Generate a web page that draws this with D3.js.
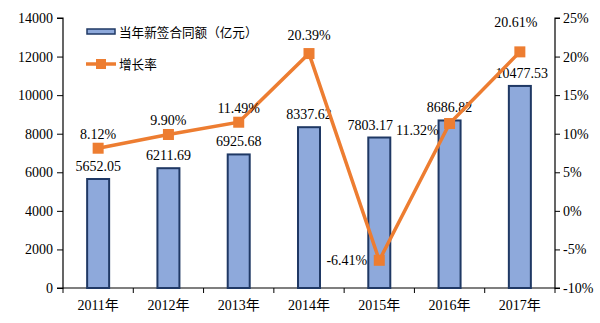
<!DOCTYPE html>
<html>
<head>
<meta charset="utf-8">
<script src="https://cdn.jsdelivr.net/npm/d3@7/dist/d3.min.js"></script>
<style>
  html, body { margin: 0; padding: 0; background: #fff; }
  svg { display: block; }
  .num { font-family: "Liberation Serif", "Noto Sans CJK SC", serif; font-size: 14px; fill: #000; }
  .cjk { font-family: "Noto Sans CJK SC", sans-serif; font-size: 12.6px; fill: #000; }
</style>
</head>
<body>
<svg id="chart" width="600" height="323"></svg>
<script>
// Annual new contract value (100 million yuan) and year-on-year growth (%)
const years = ["2011年", "2012年", "2013年", "2014年", "2015年", "2016年", "2017年"];
const contractValues = [5652.05, 6211.69, 6925.68, 8337.62, 7803.17, 8686.82, 10477.53];
const growthRates = [8.12, 9.90, 11.49, 20.39, -6.41, 11.32, 20.61];
const leftTicks = [0, 2000, 4000, 6000, 8000, 10000, 12000, 14000];
const rightTicks = [-10, -5, 0, 5, 10, 15, 20, 25];
const legendLabels = ["当年新签合同额（亿元）", "增长率"];

const svg = d3.select("#chart");
const plotL = 63, plotR = 555, plotT = 18, plotB = 288;

const x = d3.scaleBand().domain(years).range([plotL, plotR]);
const yL = d3.scaleLinear().domain([0, 14000]).range([plotB, plotT]);
const yR = d3.scaleLinear().domain([-10, 25]).range([plotB, plotT]);

const barFill = "#8EA9DB", barStroke = "#1F3864", lineColor = "#ED7D31";

// Axes
const axisL = svg.append("g").attr("transform", `translate(${plotL},0)`)
  .call(d3.axisLeft(yL).tickValues(leftTicks).tickSize(6).tickPadding(4).tickFormat(d3.format("d")));
const axisR = svg.append("g").attr("transform", `translate(${plotR},0)`)
  .call(d3.axisRight(yR).tickValues(rightTicks).tickSize(5).tickPadding(3).tickFormat(d => d + "%"));
const axisB = svg.append("g").attr("transform", `translate(0,${plotB})`)
  .call(d3.axisBottom(x).tickSize(0).tickPadding(14));

[axisL, axisR, axisB].forEach(g => {
  g.attr("font-family", null).attr("font-size", null);
  g.select(".domain").attr("stroke", "#000").attr("stroke-width", 1.2);
  g.selectAll(".tick line").attr("stroke", "#000");
  g.selectAll("text").attr("class", "num");
});
axisL.select(".domain").attr("d", `M-6,${plotT}H0V${plotB}H-6`);
axisR.select(".domain").attr("d", `M5,${plotT}H0V${plotB}H5`);
axisB.selectAll(".tick").remove();
axisB.select(".domain").attr("d", `M${plotL},0H${plotR}`);

// Category boundary ticks on the bottom axis
svg.append("g").selectAll("line")
  .data(years)
  .join("line")
  .attr("x1", d => x(d) + x.bandwidth())
  .attr("x2", d => x(d) + x.bandwidth())
  .attr("y1", plotB).attr("y2", plotB + 5)
  .attr("stroke", "#000");
svg.append("line").attr("x1", plotL).attr("x2", plotL).attr("y1", plotB).attr("y2", plotB + 5).attr("stroke", "#000");

// Year labels
svg.append("g").selectAll("text")
  .data(years).join("text")
  .attr("class", "num")
  .attr("x", d => x(d) + x.bandwidth() / 2)
  .attr("y", 310)
  .attr("text-anchor", "middle")
  .text(d => d);

// Bars
const barW = 22;
svg.append("g").selectAll("rect")
  .data(contractValues).join("rect")
  .attr("x", (d, i) => x(years[i]) + x.bandwidth() / 2 - barW / 2)
  .attr("y", d => yL(d))
  .attr("width", barW)
  .attr("height", d => plotB - yL(d))
  .attr("fill", barFill)
  .attr("stroke", barStroke)
  .attr("stroke-width", 2);

// Bar value labels
const barLabelShift = [0, 0, 0, 0, -9, 0, 2];
svg.append("g").selectAll("text")
  .data(contractValues).join("text")
  .attr("class", "num")
  .attr("x", (d, i) => x(years[i]) + x.bandwidth() / 2 + barLabelShift[i])
  .attr("y", d => yL(d) - 8)
  .attr("text-anchor", "middle")
  .text(d => d.toFixed(2));

// Growth line
const cx = i => x(years[i]) + x.bandwidth() / 2;
const line = d3.line().x((d, i) => cx(i)).y(d => yR(d));
svg.append("path")
  .datum(growthRates)
  .attr("d", line)
  .attr("fill", "none")
  .attr("stroke", lineColor)
  .attr("stroke-width", 3.5)
  .attr("stroke-linejoin", "miter");

const sq = 11;
svg.append("g").selectAll("rect")
  .data(growthRates).join("rect")
  .attr("x", (d, i) => cx(i) - sq / 2)
  .attr("y", d => yR(d) - sq / 2)
  .attr("width", sq).attr("height", sq)
  .attr("fill", lineColor);

// Growth labels: [dx, dy, anchor]
const rateLabelPos = [
  [0, -9, "middle"], [0, -9, "middle"], [0, -9, "middle"], [0, -14, "middle"],
  [-12, 5, "end"], [-11, 11, "end"], [-4, -25, "middle"]
];
svg.append("g").selectAll("text")
  .data(growthRates).join("text")
  .attr("class", "num")
  .attr("x", (d, i) => cx(i) + rateLabelPos[i][0])
  .attr("y", d => yR(d))
  .attr("dy", (d, i) => rateLabelPos[i][1])
  .attr("text-anchor", (d, i) => rateLabelPos[i][2])
  .text(d => d.toFixed(2) + "%");

// Legend
const lg = svg.append("g");
lg.append("rect").attr("x", 87).attr("y", 29).attr("width", 28).attr("height", 5)
  .attr("fill", barFill).attr("stroke", barStroke).attr("stroke-width", 1.5);
lg.append("text").attr("class", "cjk").attr("x", 119).attr("y", 36.5).text(legendLabels[0]);
lg.append("line").attr("x1", 86).attr("x2", 116).attr("y1", 64).attr("y2", 64)
  .attr("stroke", lineColor).attr("stroke-width", 3.5);
lg.append("rect").attr("x", 96).attr("y", 59).attr("width", 10).attr("height", 10).attr("fill", lineColor);
lg.append("text").attr("class", "cjk").attr("x", 119).attr("y", 68.5).text(legendLabels[1]);
</script>
</body>
</html>
